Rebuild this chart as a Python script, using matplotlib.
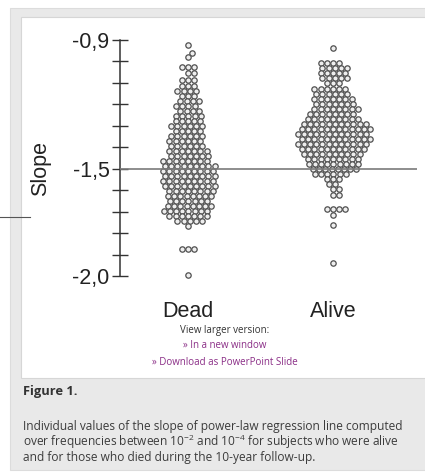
import numpy as np
import matplotlib.pyplot as plt
from matplotlib.patches import Rectangle
from matplotlib.lines import Line2D

plt.rcParams['mathtext.fontset'] = 'custom'
plt.rcParams['mathtext.rm'] = 'Open Sans'
plt.rcParams['mathtext.it'] = 'Open Sans:italic'

W, H = 425, 473

groups = ["Dead", "Alive"]

dead_levels = [-0.923, -0.960, -0.979, -1.026, -1.053, -1.086, -1.114, -1.137,
               -1.160, -1.184, -1.207, -1.230, -1.253, -1.277, -1.300, -1.323,
               -1.347, -1.370, -1.393, -1.416, -1.440, -1.463, -1.486, -1.509,
               -1.533, -1.556, -1.579, -1.602, -1.626, -1.649, -1.672, -1.695,
               -1.719, -1.742, -1.765, -1.872, -1.993]
dead_counts = [1, 1, 1, 3, 2, 3, 3, 4,
               3, 4, 4, 4, 5, 5, 6, 5,
               6, 6, 6, 7, 7, 8, 9, 9,
               9, 9, 9, 8, 8, 7, 8, 8,
               7, 5, 1, 3, 1]

alive_levels = [-0.937, -1.007, -1.030, -1.053, -1.077, -1.100, -1.128, -1.151,
                -1.174, -1.198, -1.221, -1.244, -1.267, -1.291, -1.314, -1.337,
                -1.360, -1.384, -1.407, -1.430, -1.453, -1.477, -1.500, -1.523,
                -1.547, -1.570, -1.593, -1.621, -1.686, -1.714, -1.760, -1.937]
alive_counts = [1, 4, 5, 5, 5, 3, 6, 6,
                7, 7, 8, 8, 9, 11, 12, 12,
                12, 12, 11, 10, 9, 9, 8, 6,
                3, 2, 2, 2, 4, 1, 1, 1]

tick_values = [-0.9, -1.5, -2.0]
tick_labels = ["-0,9", "-1,5", "-2,0"]
minor_values = [-1.0, -1.1, -1.2, -1.3, -1.4, -1.6, -1.7, -1.8, -1.9]
ref_line = -1.5


def fx(x):
    return x / W


def fy(y):
    return 1 - y / H


def swarm(y_px, d):
    # simple beeswarm: put each point at the smallest offset that does not overlap
    order = np.argsort(y_px, kind="stable")
    xs = np.zeros(len(y_px))
    placed = []
    for i in order:
        y = y_px[i]
        near = [(xj, yj) for xj, yj in placed if abs(yj - y) < d]
        cands = [0.0]
        for xj, yj in near:
            dx = np.sqrt(d * d - (yj - y) ** 2)
            cands += [xj + dx, xj - dx]
        cands.sort(key=abs)
        for c in cands:
            if all((c - xj) ** 2 + (y - yj) ** 2 >= d * d - 1e-6 for xj, yj in near):
                xs[i] = c
                break
        placed.append((xs[i], y))
    return xs


fig = plt.figure(figsize=(W / 100, H / 100), dpi=100)
fig.patch.set_facecolor("white")

# page frame: grey box with white figure panel inside
fig.add_artist(Rectangle((fx(10), fy(470)), fx(420), 462 / H, transform=fig.transFigure,
                         facecolor="#e9e9e9", edgecolor="#dcdcdc", lw=0.8, zorder=-3))
fig.add_artist(Rectangle((fx(21), fy(378)), fx(410), 361 / H, transform=fig.transFigure,
                         facecolor="white", edgecolor="#d6d6d6", lw=0.8, zorder=-2))
fig.add_artist(Line2D([0, fx(30)], [fy(217), fy(217)], transform=fig.transFigure,
                      color="#555555", lw=0.8))

ax = fig.add_axes([fx(120), fy(290), 297 / W, 260 / H])
ax.patch.set_visible(False)
ax.set_ylim(-2.0628, -0.8535)
ax.set_xlim(0.531, 2.579)

for s in ["top", "right", "bottom"]:
    ax.spines[s].set_visible(False)
ax.spines["left"].set_bounds(-2.0, -0.9)
ax.spines["left"].set_color("#333333")
ax.spines["left"].set_linewidth(1.1)

ax.set_yticks(tick_values, tick_labels, fontfamily="Liberation Sans", fontsize=15.5, color="#222222")
ax.set_yticks(minor_values, minor=True)
ax.tick_params(axis="y", which="both", direction="inout", length=11, width=1.0,
               color="#333333", pad=2)

ax.set_xticks([1, 2], groups, fontfamily="Liberation Sans", fontsize=15.5, color="#222222")
ax.tick_params(axis="x", length=0, pad=8)

ax.text(-0.266, 0.469, "Slope", transform=ax.transAxes, rotation=90, ha="center",
        va="center", fontfamily="Liberation Sans", fontsize=15.5, color="#222222")

ax.axhline(ref_line, color="#7a7a7a", lw=1.2, zorder=3)

fig.canvas.draw()
p0 = ax.transData.transform((1, ref_line))
p1 = ax.transData.transform((2, ref_line))
ppu = p1[0] - p0[0]

for i, (levels, counts) in enumerate([(dead_levels, dead_counts), (alive_levels, alive_counts)]):
    vals = np.repeat(levels, counts)
    pts = ax.transData.transform(np.column_stack([np.full(len(vals), i + 1.0), vals]))
    # rows are packed a little tighter vertically than horizontally
    off = swarm(pts[:, 1] * 1.2, 6.2)
    ax.scatter(i + 1 + off / ppu, vals, s=15, facecolor="#eeeeee", edgecolor="#505050",
               linewidths=0.9, zorder=2, clip_on=False)

# links under the figure
fig.text(fx(225), fy(330), "View larger version:", ha="center", va="center",
         fontfamily="Open Sans", fontsize=7.0, color="#333333")
fig.text(fx(225), fy(345), "» In a new window", ha="center", va="center",
         fontfamily="Open Sans", fontsize=7.0, color="#8a2d86")
fig.text(fx(225), fy(362), "» Download as PowerPoint Slide", ha="center", va="center",
         fontfamily="Open Sans", fontsize=7.0, color="#8a2d86")

fig.text(fx(23), fy(391), "Figure 1.", ha="left", va="center",
         fontfamily="Open Sans", fontweight="bold", fontsize=9.3, color="#333333")

caption = ["Individual values of the slope of power-law regression line computed",
           r"over frequencies between 10$^{-2}$ and 10$^{-4}$ for subjects who were alive",
           "and for those who died during the 10-year follow-up."]
for k, line in enumerate(caption):
    fig.text(fx(23), fy(426 + 15.5 * k), line, ha="left", va="center",
             fontfamily="Open Sans", fontsize=8.6, color="#3c3c3c")

fig.savefig("out.png", dpi=100)
